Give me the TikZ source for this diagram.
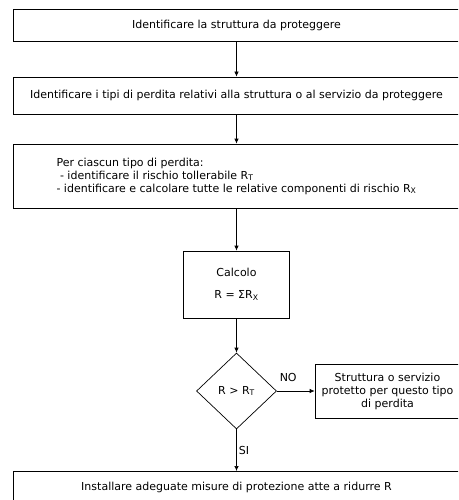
\documentclass[tikz,border=0pt]{standalone}
\usepackage{fontspec}
\setmainfont{DejaVu Sans}
\usetikzlibrary{shapes.geometric,arrows.meta}
\begin{document}
\begin{tikzpicture}[x=1pt,y=-1pt,
  every node/.style={font=\fontsize{11}{13}\selectfont},
  box/.style={draw, line width=0.7pt, rectangle, inner sep=0pt, align=center},
  decision/.style={draw, line width=0.7pt, diamond, inner sep=0pt, minimum width=80pt, minimum height=76pt},
  flow/.style={draw, line width=0.7pt, -{Latex[length=5pt,width=4.5pt]}},
  lbl/.style={inner sep=2pt}]
\useasboundingbox (0,0) rectangle (458,500);
\clip (0,0) rectangle (458,500);
\node[box, minimum width=447pt, minimum height=32pt] (b1) at (236.5,25)
  {Identificare la struttura da proteggere};
\node[box, minimum width=447pt, minimum height=37pt] (b2) at (236.5,95.5)
  {Identificare i tipi di perdita relativi alla struttura o al servizio da proteggere};
\node[box, minimum width=447pt, minimum height=64pt, align=left] (b3) at (236.5,176)
  {Per ciascun tipo di perdita:\\
   \ - identificare il rischio tollerabile R\textsubscript{T}\\
   - identificare e calcolare tutte le relative componenti di rischio R\textsubscript{X}};
\node[box, minimum width=106pt, minimum height=67pt] (calc) at (236.5,284.5)
  {Calcolo\\[9pt] R = ΣR\textsubscript{X}};
\node[decision] (dia) at (236.5,391) {R > R\textsubscript{T}};
\node[box, minimum width=145pt, minimum height=54pt] (nobox) at (387.5,391)
  {Struttura o servizio\\protetto per questo tipo\\di perdita};
\node[box, anchor=north, minimum width=447pt, text height=19pt, text depth=40pt] (b5) at (236.5,471)
  {Installare adeguate misure di protezione atte a ridurre R};
\draw[flow] (b1) -- (b2);
\draw[flow] (b2) -- (b3);
\draw[flow] (b3) -- (calc);
\draw[flow] (calc) -- (dia);
\draw[flow] (dia) -- node[lbl, above, pos=0.3, yshift=7pt] {NO} (nobox);
\draw[flow] (dia) -- node[lbl, right, pos=0.5] {SI} (b5);
\end{tikzpicture}
\end{document}
